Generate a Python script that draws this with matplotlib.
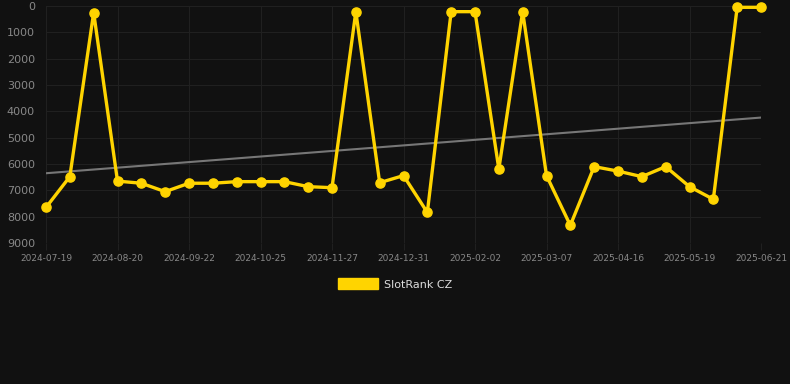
import numpy as np
import matplotlib
matplotlib.use('Agg')
import matplotlib.pyplot as plt
from matplotlib.patches import Patch

# rank values (lower is better), one point per sample
ranks = [7650, 6480, 250, 6650, 6730, 7050, 6730, 6730, 6670, 6670,
         6670, 6860, 6900, 215, 6710, 6440, 7840, 215, 215, 6190,
         215, 6440, 8330, 6100, 6270, 6480, 6100, 6860, 7340, 50, 50]
tick_labels = ['2024-07-19', '2024-08-20', '2024-09-22', '2024-10-25',
               '2024-11-27', '2024-12-31', '2025-02-02', '2025-03-07',
               '2025-04-16', '2025-05-19', '2025-06-21']
series_name = 'SlotRank CZ'

BG = '#111111'
GRID = '#202020'
TXT = '#888888'
GOLD = '#ffd400'

x = np.arange(len(ranks))

fig = plt.figure(figsize=(7.9, 3.84), dpi=100, facecolor=BG)
ax = fig.add_axes([46 / 790, 1 - 243 / 384, (761 - 46) / 790, (243 - 6) / 384])
ax.set_facecolor(BG)

# trend line (least squares fit)
k, b = np.polyfit(x, ranks, 1)
ax.plot(x, k * x + b, color='#777777', lw=1.5, zorder=2)

ax.plot(x, ranks, color=GOLD, lw=2.4, marker='o', ms=6.6, solid_joinstyle='miter',
        clip_on=False, zorder=3)

ax.set_xlim(0, len(ranks) - 1)
ax.set_ylim(9000, 0)
ax.set_yticks(range(0, 9001, 1000))
ax.set_xticks(x[::3])
ax.set_xticklabels(tick_labels)
ax.grid(True, color=GRID, lw=0.8)
ax.tick_params(axis='x', colors=GRID, labelcolor=TXT, labelsize=6.5, length=5, pad=3)
ax.tick_params(axis='y', colors=GRID, labelcolor=TXT, labelsize=8, length=0, pad=8)
for s in ax.spines.values():
    s.set_visible(False)

handle = Patch(facecolor=GOLD, edgecolor=GOLD)
leg = fig.legend([handle], [series_name], loc='center', bbox_to_anchor=(0.5, 1 - 284 / 384),
                 frameon=False, fontsize=8, handlelength=3.6, handleheight=1.1,
                 handletextpad=0.6)
for t in leg.get_texts():
    t.set_color('#dddddd')

fig.savefig('out.png', dpi=100, facecolor=BG)
